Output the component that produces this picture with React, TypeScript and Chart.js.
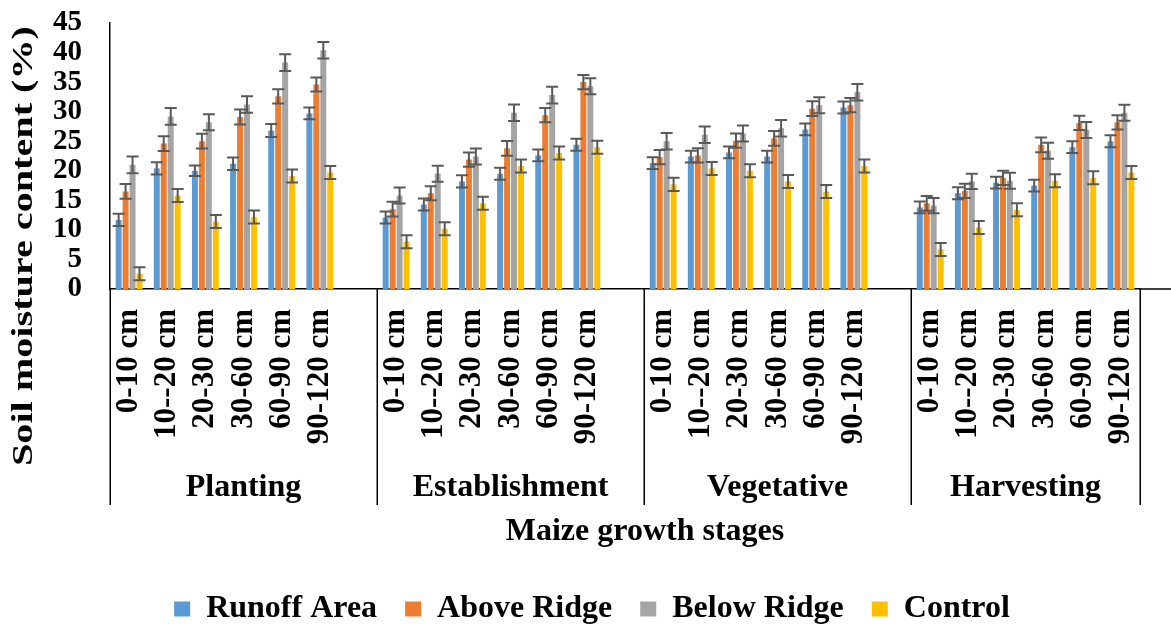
import { useEffect, useRef } from 'react';
import { Chart, registerables } from 'chart.js';

Chart.register(...registerables);

const stages = ['Planting', 'Establishment', 'Vegetative', 'Harvesting'];
const depths = ['0-10 cm', '10--20 cm', '20-30 cm', '30-60 cm', '60-90 cm', '90-120 cm'];
const seriesNames = ['Runoff Area', 'Above Ridge', 'Below Ridge', 'Control'];
const seriesColors = ['#5B9BD5', '#ED7D31', '#A5A5A5', '#FFC000'];

// values: Planting | Establishment | Vegetative | Harvesting (6 depths each)
const runoffArea = [
  11.7, 20.4, 20.0, 21.2, 26.8, 29.7,
  12.1, 14.3, 18.2, 19.5, 22.6, 24.4,
  21.3, 22.4, 23.1, 22.4, 27.0, 30.7,
  13.8, 16.2, 18.0, 17.5, 24.0, 25.0,
];
const aboveRidge = [
  16.5, 24.6, 25.0, 29.1, 32.6, 34.6,
  13.5, 16.2, 21.9, 23.8, 29.4, 35.0,
  22.3, 22.6, 25.1, 25.5, 30.5, 31.1,
  14.5, 16.6, 18.8, 24.4, 28.1, 28.2,
];
const belowRidge = [
  21.0, 29.2, 28.2, 31.2, 38.3, 40.4,
  15.8, 19.5, 22.4, 29.8, 32.8, 34.3,
  25.0, 26.1, 26.3, 27.2, 31.1, 33.3,
  14.1, 18.2, 18.3, 23.4, 26.9, 29.8,
];
const control = [
  2.6, 15.8, 11.4, 12.2, 19.1, 19.7,
  8.0, 10.2, 14.5, 20.8, 23.0, 24.0,
  17.7, 20.4, 20.0, 18.2, 16.5, 20.8,
  6.7, 10.4, 13.4, 18.3, 18.8, 19.7,
];

// error bar half-lengths
const runoffErr = [
  1.05, 1.05, 0.9, 1.05, 1.1, 1.0,
  1.0, 1.0, 1.05, 1.0, 1.0, 1.0,
  1.0, 1.0, 1.0, 1.0, 1.0, 1.0,
  1.0, 1.0, 1.0, 1.0, 1.0, 1.0,
];
const aboveErr = [
  1.25, 1.25, 1.25, 1.25, 1.2, 1.2,
  1.25, 1.2, 1.2, 1.25, 1.2, 1.2,
  1.2, 1.2, 1.2, 1.25, 1.25, 1.2,
  1.25, 1.2, 1.2, 1.25, 1.2, 1.2,
];
const belowErr = [
  1.4, 1.4, 1.35, 1.4, 1.4, 1.4,
  1.35, 1.35, 1.35, 1.4, 1.4, 1.35,
  1.4, 1.4, 1.35, 1.4, 1.35, 1.4,
  1.3, 1.3, 1.35, 1.35, 1.35, 1.35,
];
const controlErr = [
  1.1, 1.1, 1.1, 1.1, 1.1, 1.1,
  1.1, 1.1, 1.1, 1.1, 1.1, 1.1,
  1.1, 1.1, 1.1, 1.1, 1.1, 1.1,
  1.1, 1.1, 1.1, 1.1, 1.1, 1.1,
];

const yTicksMin = 0;
const yTicksMax = 45;
const yTicksStep = 5;

const yTitle = 'Soil moisture content (%)';
const xTitle = 'Maize growth stages';

const FONT = "'Liberation Serif', 'Times New Roman', serif";

// Build the category table: 6 depths per stage, one blank slot between stages
function buildLabels(): string[] {
  const out: string[] = [];
  stages.forEach((_, s) => {
    depths.forEach((d) => out.push(d));
    if (s < stages.length - 1) out.push('');
  });
  return out;
}
function expand(arr: number[]): (number | null)[] {
  const out: (number | null)[] = [];
  stages.forEach((_, s) => {
    for (let k = 0; k < depths.length; k++) out.push(arr[s * depths.length + k]);
    if (s < stages.length - 1) out.push(null);
  });
  return out;
}

const valueSets = [runoffArea, aboveRidge, belowRidge, control];
const errorSets = [runoffErr, aboveErr, belowErr, controlErr];

export default function App() {
  const ref = useRef<HTMLCanvasElement | null>(null);

  useEffect(() => {
    if (!ref.current) return;
    const labels = buildLabels();
    const errs = errorSets.map(expand);

    const overlay = {
      id: 'overlay',
      afterDatasetsDraw(chart: any) {
        const ctx = chart.ctx;
        const ys = chart.scales.y;
        ctx.save();
        ctx.strokeStyle = '#595959';
        ctx.lineWidth = 2;
        chart.data.datasets.forEach((ds: any, i: number) => {
          const meta = chart.getDatasetMeta(i);
          meta.data.forEach((el: any, j: number) => {
            const v = ds.data[j];
            const e = errs[i][j];
            if (v == null || e == null) return;
            const x = el.x;
            const t = ys.getPixelForValue(v + e);
            const b = ys.getPixelForValue(v - e);
            ctx.beginPath();
            ctx.moveTo(x, t);
            ctx.lineTo(x, b);
            ctx.moveTo(x - 6, t);
            ctx.lineTo(x + 6, t);
            ctx.moveTo(x - 6, b);
            ctx.lineTo(x + 6, b);
            ctx.stroke();
          });
        });
        ctx.restore();
      },
      afterDraw(chart: any) {
        const ctx = chart.ctx;
        const xs = chart.scales.x;
        const area = chart.chartArea;
        const n = labels.length;
        const cw = (xs.right - xs.left) / n;
        ctx.save();
        // axis extension to the right edge
        ctx.strokeStyle = '#000';
        ctx.lineWidth = 1.5;
        ctx.beginPath();
        ctx.moveTo(area.right, area.bottom);
        ctx.lineTo(chart.width, area.bottom);
        ctx.stroke();
        // group separators
        const bounds = [0, 7, 14, 21, 27];
        ctx.lineWidth = 1.5;
        bounds.forEach((b) => {
          const x = Math.round(xs.left + b * cw) + 0.25;
          ctx.beginPath();
          ctx.moveTo(x, area.bottom);
          ctx.lineTo(x, 505);
          ctx.stroke();
        });
        // group labels
        ctx.fillStyle = '#000';
        ctx.font = `bold 32px ${FONT}`;
        ctx.textAlign = 'center';
        ctx.textBaseline = 'alphabetic';
        stages.forEach((s, i) => {
          const x0 = xs.left + bounds[i] * cw;
          const x1 = xs.left + bounds[i + 1] * cw;
          ctx.fillText(s, (x0 + x1) / 2, 496);
        });
        // x title
        ctx.fillText(xTitle, 645, 540);
        // y title (rotated)
        ctx.font = `bold 30px ${FONT}`;
        const w = ctx.measureText(yTitle).width;
        ctx.translate(24, 246);
        ctx.rotate(-Math.PI / 2);
        ctx.scale(440 / w, 1);
        ctx.textBaseline = 'middle';
        ctx.fillText(yTitle, 0, 0);
        ctx.restore();
      },
    };

    const chart = new Chart(ref.current, {
      type: 'bar',
      data: {
        labels,
        datasets: seriesNames.map((name, i) => ({
          label: name,
          data: expand(valueSets[i]),
          backgroundColor: seriesColors[i],
          borderWidth: 0,
          categoryPercentage: 0.73,
          barPercentage: 0.86,
        })),
      },
      options: {
        animation: false,
        responsive: true,
        maintainAspectRatio: false,
        layout: { padding: { left: 44, right: 31, top: 23, bottom: -9 } },
        plugins: {
          legend: {
            position: 'bottom',
            labels: {
              color: '#000',
              font: { family: FONT, size: 32, weight: 'bold' },
              boxWidth: 16,
              boxHeight: 15,
              padding: 28,
            },
          },
          tooltip: { enabled: false },
        },
        scales: {
          x: {
            grid: { display: false, drawTicks: true, tickLength: 20 },
            border: { display: true, color: '#000', width: 1.5 },
            ticks: {
              autoSkip: false,
              minRotation: 90,
              maxRotation: 90,
              padding: 0,
              color: '#000',
              font: { family: FONT, size: 31, weight: 'bold' },
            },
            afterFit: (s: any) => {
              s.height = 276;
            },
          },
          y: {
            min: yTicksMin,
            max: yTicksMax,
            grid: { display: false, drawTicks: true, tickLength: 28 },
            border: { display: true, color: '#000', width: 1.5 },
            ticks: {
              stepSize: yTicksStep,
              autoSkip: false,
              padding: 0,
              color: '#000',
              font: { family: FONT, size: 29, weight: 'bold' },
            },
            afterFit: (s: any) => {
              s.width = 66;
            },
          },
        },
      },
      plugins: [overlay],
    });
    return () => chart.destroy();
  }, []);

  return (
    <div style={{ position: 'fixed', left: 0, top: 0, width: 1171, height: 626, background: '#fff' }}>
      <canvas ref={ref} />
    </div>
  );
}
